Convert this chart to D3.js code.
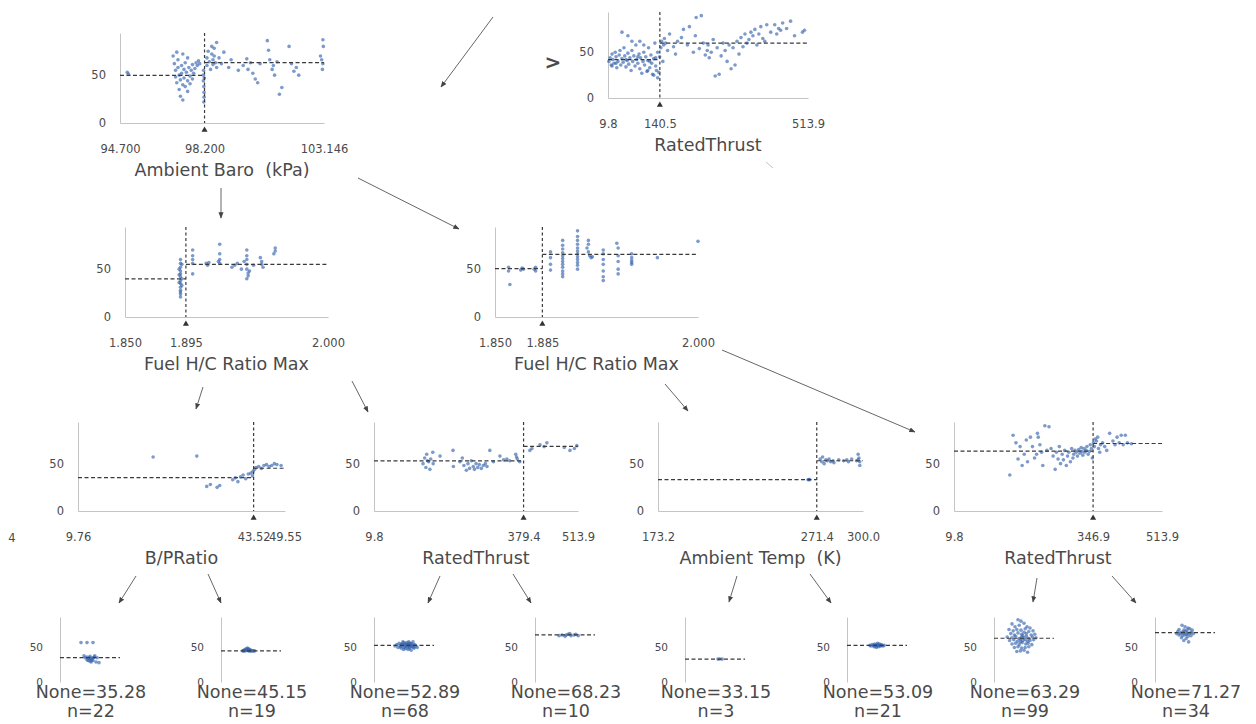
<!DOCTYPE html>
<html>
<head>
<meta charset="utf-8">
<script src="https://cdn.jsdelivr.net/npm/d3@7"></script>
<style>
  body { margin: 0; background: #fff; }
  svg text { font-family: "DejaVu Sans", sans-serif; fill: #4a4a4a; white-space: pre; }
</style>
</head>
<body>
<svg id="chart" width="1256" height="724"></svg>
<script>
// ---- data ----
const featureNames = ["RatedThrust", "Ambient Baro  (kPa)", "Fuel H/C Ratio Max", "Fuel H/C Ratio Max",
    "B/PRatio", "RatedThrust", "Ambient Temp  (K)", "RatedThrust"]
const xDomains = [[9.8, 513.9], [94.7, 103.146], [1.85, 2.0], [1.85, 2.0],
    [9.76, 49.55], [9.8, 513.9], [173.2, 300.0], [9.8, 513.9]]
const splits = [140.5, 98.2, 1.895, 1.885, 43.52, 379.4, 271.4, 346.9]
const tickDecimals = [1, 3, 3, 3, 2, 1, 1, 1]
const leftMeans = [42, 49.7, 39.85, 50.6, 35.28, 52.89, 33.15, 63.29]
const rightMeans = [60, 63.08, 54.86, 65.33, 45.15, 68.23, 53.09, 71.27]
const yTicks = [0, 50]
const yMax = 94

const rootPts = [[12,40],[15,44],[18,36],[20,48],[22,42],[25,38],[28,50],[30,45],[32,33],[35,40],[38,47],[40,52],[42,36],[45,43],[48,39],[50,55],[52,46],[55,34],[58,41],[60,49],[62,37],[65,44],[68,30],[70,52],[72,40],[75,46],[78,35],[80,58],[82,42],[85,38],[88,48],[90,32],[92,44],[95,27],[98,40],[100,50],[102,36],[105,45],[108,29],[110,41],[112,55],[115,33],[118,47],[120,38],[122,26],[125,43],[128,60],[130,35],[132,30],[135,50],[138,28],[140,45],[60,68],[45,72],[70,62],[90,62],[100,58],[110,30],[125,25],[135,22],[20,35],[30,38],[55,42],[85,45],[115,40],[130,44],
    [143,55],[145,62],[148,40],[150,58],[152,65],[155,60],[160,52],[165,70],[175,56],[180,48],[185,62],[195,66],[200,75],[210,58],[215,78],[225,50],[230,68],[240,54],[250,60],[255,47],[260,52],[262,58],[265,44],[270,50],[275,64],[280,24],[285,55],[290,26],[295,46],[300,60],[305,52],[310,40],[315,58],[320,32],[325,55],[330,36],[335,62],[340,48],[345,66],[350,56],[355,70],[360,60],[365,64],[370,72],[375,68],[380,75],[385,58],[390,70],[395,78],[400,65],[405,62],[410,80],[420,72],[430,80],[440,76],[450,82],[445,74],[435,70],[460,76],[470,84],[480,68],[500,72],[505,74],[232,88],[245,90]]

const baroPts = [[95.0,53],[95.05,51],[96.9,70],[96.95,62],[97.0,55],[97.0,48],[97.05,42],[97.1,66],[97.1,58],[97.15,50],[97.15,35],[97.2,45],[97.2,28],[97.25,60],[97.25,52],[97.3,40],[97.3,24],[97.35,56],[97.35,47],[97.4,38],[97.4,63],[97.45,53],[97.5,44],[97.5,33],[97.55,58],[97.6,49],[97.6,41],[97.65,55],[97.7,61],[97.7,46],[97.75,52],[97.8,57],[97.85,63],[97.9,60],[97.95,65],[98.0,62],[97.05,74],[97.3,72],[97.5,68],
    [98.15,50],[98.15,44],[98.17,38],[98.18,32],[98.18,27],[98.16,55],[98.19,47],[98.17,22],
    [98.3,60],[98.3,68],[98.35,75],[98.4,64],[98.45,56],[98.5,80],[98.5,72],[98.55,66],[98.55,61],[98.6,78],[98.6,70],[98.65,63],[98.7,58],[98.7,84],[98.8,68],[98.9,62],[99.0,74],[99.2,58],[99.3,66],[99.6,55],[99.8,60],[99.95,67],[100.0,56],[100.1,63],[100.2,52],[100.3,46],[100.4,42],[100.5,62],[100.8,86],[100.85,76],[100.9,66],[101.0,56],[101.05,60],[101.1,50],[101.2,64],[101.3,30],[101.4,37],[101.7,80],[101.8,62],[101.9,54],[102.0,58],[102.1,50],[103.0,70],[103.05,66],[103.1,62],[103.1,87],[103.12,80],[103.08,56]]

const fuelLeftPts = [[1.891,60],[1.891,56],[1.891,52],[1.891,48],[1.891,45],[1.891,42],[1.891,38],[1.891,35],[1.891,31],[1.891,28],[1.891,24],[1.891,21],[1.890,50],[1.892,40],[1.892,33],[1.890,44],[1.892,55],[1.890,36],[1.891,26],
    [1.900,70],[1.900,64],[1.900,60],[1.900,56],[1.900,45],[1.910,56],[1.911,54],[1.912,57],[1.920,76],[1.920,66],[1.920,60],[1.920,56],[1.919,58],[1.929,52],[1.931,54],[1.933,56],[1.936,50],[1.938,58],[1.940,70],[1.940,64],[1.940,60],[1.940,55],[1.940,50],[1.941,46],[1.941,43],[1.940,40],[1.942,48],[1.945,54],[1.950,62],[1.951,58],[1.951,55],[1.952,52],[1.961,72],[1.961,69],[1.960,66]]

const fuelRightPts = [[1.860,52],[1.860,48],[1.861,34],[1.870,51],[1.869,49],[1.871,50],[1.880,52],[1.880,48],[1.879,50],
    [1.891,68],[1.891,62],[1.891,55],[1.891,49],[1.9,80],[1.9,75],[1.9,71],[1.9,67],[1.9,64],[1.9,61],[1.9,58],[1.9,55],[1.9,52],[1.9,48],[1.9,45],[1.9,42],
    [1.911,90],[1.911,84],[1.911,80],[1.911,76],[1.911,72],[1.911,69],[1.911,66],[1.911,63],[1.911,60],[1.911,57],[1.911,54],[1.911,50],
    [1.919,80],[1.919,76],[1.918,72],[1.919,68],[1.920,64],[1.921,62],[1.922,63],[1.930,70],[1.930,66],[1.930,60],[1.930,55],[1.930,48],[1.930,42],[1.930,38],
    [1.940,77],[1.941,72],[1.941,64],[1.941,58],[1.941,50],[1.941,45],[1.951,66],[1.951,62],[1.951,59],[1.951,57],[1.951,55],[1.970,62],[2.0,79]]

const bpPts = [[24.2,57],[32.6,58],[34.5,26],[35.2,28],[36.5,25],[37.0,27],[39.5,33],[40.0,35],[40.5,31],[41.0,36],[41.5,38],[42.0,34],[42.5,39],[43.0,40],[43.3,37],[43.4,42],
    [43.7,44],[44.0,46],[44.5,47],[45.0,45],[45.5,48],[46.0,49],[46.5,47],[47.0,48],[47.5,50],[48.0,49],[48.8,48]]

const thrustMidPts = [[131,50],[135,56],[138,46],[140,60],[142,53],[145,52],[148,44],[150,55],[155,62],[156,50],[173,58],[205,64],[206,47],[222,52],[228,56],[232,48],[238,43],[242,50],[246,45],[250,53],[255,47],[258,44],[262,50],[266,46],[270,49],[275,45],[280,48],[285,50],[289,47],[296,64],[305,52],[321,58],[330,54],[338,55],[345,53],[360,60],[362,57],[364,55],[370,52],
    [395,64],[400,66],[420,70],[430,68],[437,72],[480,67],[494,64],[505,66],[511,69]]

const tempPts = [[266,33],[266.5,33.2],[267,33.1],
    [273.5,55],[274.5,52],[275,57],[276,50],[277,54],[278,53],[279,55],[280,52],[281.5,53],[282,51],[285,54],[288,53],[290,54],[291,52],[293,55],[296,53],[297,60],[297.5,56],[298,48],[298,52],[297,54]]

const thrustRightPts = [[145,38],[153,80],[160,72],[165,55],[170,68],[175,48],[180,60],[185,75],[188,52],[195,78],[200,68],[205,56],[210,60],[212,82],[214,78],[218,70],[222,62],[225,48],[230,90],[235,64],[240,89],[245,66],[250,58],[255,44],[258,62],[262,55],[265,68],[268,50],[272,60],[275,54],[278,64],[282,48],[285,58],[288,62],[292,52],[295,66],[298,56],[300,60],[303,64],[306,62],[309,58],[312,65],[315,61],[318,67],[320,63],[322,59],[325,66],[327,62],[330,64],[332,68],[335,60],[338,63],[340,70],[343,66],[345,56],
    [348,72],[350,68],[352,76],[355,74],[358,78],[360,66],[363,62],[365,70],[370,72],[375,68],[380,64],[387,82],[395,74],[400,70],[405,78],[410,72],[415,80],[420,70],[425,80],[430,72],[440,71]]

const nodePoints = [rootPts, baroPts, fuelLeftPts, fuelRightPts, bpPts, thrustMidPts, tempPts, thrustRightPts]

const leafMeans = [35.28, 45.15, 52.89, 68.23, 33.15, 53.09, 63.29, 71.27]
const leafCounts = [22, 19, 68, 10, 3, 21, 99, 34]
const leaf1Pts = [[0.35,57],[0.45,57],[0.55,57],[0.40,38],[0.45,36],[0.48,34],[0.50,37],[0.52,33],[0.55,35],[0.47,31],[0.50,30],[0.53,32],[0.58,38],[0.60,29],[0.62,35],[0.45,32],[0.50,35],[0.55,31],[0.57,36],[0.42,35],[0.52,29],[0.65,28]]
const leaf2Pts = [[0.36,45],[0.38,46],[0.40,47],[0.42,48],[0.44,49],[0.46,48],[0.48,47],[0.50,46],[0.52,45],[0.54,45],[0.56,45],[0.40,45],[0.44,46],[0.46,45],[0.48,45],[0.42,45.5],[0.50,45],[0.45,47],[0.38,45]]
const leaf3Pts = [[0.35,52],[0.38,54],[0.40,50],[0.42,56],[0.44,53],[0.45,49],[0.46,55],[0.48,52],[0.50,57],[0.50,50],[0.52,53],[0.53,48],[0.54,55],[0.55,51],[0.56,54],[0.57,47],[0.58,52],[0.59,56],[0.60,50],[0.61,53],[0.62,46],[0.63,55],[0.64,51],[0.65,58],[0.66,53],[0.67,49],[0.68,54],[0.70,52],[0.72,50],[0.44,51],[0.47,54],[0.49,47],[0.51,55],[0.53,51],[0.55,57],[0.57,53],[0.59,49],[0.61,56],[0.63,52],[0.66,50],[0.48,58],[0.58,58]]
const leaf4Pts = [[0.40,67],[0.45,68],[0.50,66],[0.55,69],[0.58,70],[0.60,67],[0.65,68],[0.68,69],[0.72,67],[0.52,68]]
const leaf5Pts = [[0.55,33.1],[0.58,33.2],[0.62,33.1]]
const leaf6Pts = [[0.38,53],[0.40,52],[0.42,54],[0.44,53],[0.45,51],[0.46,55],[0.48,53],[0.50,52],[0.50,54],[0.52,53],[0.53,51],[0.54,55],[0.55,53],[0.56,52],[0.57,54],[0.58,53],[0.60,52],[0.62,53],[0.47,52],[0.51,56],[0.49,50]]
const leaf7Pts = [[0.40,90],[0.45,88],[0.30,84],[0.50,85],[0.35,80],[0.42,82],[0.55,80],[0.60,78],[0.25,76],[0.32,74],[0.38,76],[0.45,75],[0.52,77],[0.58,73],[0.65,74],[0.28,70],[0.34,68],[0.40,71],[0.46,69],[0.50,72],[0.54,70],[0.62,68],[0.68,69],[0.22,65],[0.30,64],[0.36,66],[0.42,63],[0.46,65],[0.50,64],[0.54,66],[0.58,63],[0.64,65],[0.70,64],[0.26,60],[0.33,61],[0.39,59],[0.44,62],[0.48,60],[0.52,61],[0.56,59],[0.60,60],[0.66,61],[0.30,55],[0.36,56],[0.42,54],[0.47,57],[0.53,55],[0.57,56],[0.63,54],[0.34,50],[0.40,51],[0.46,49],[0.52,50],[0.58,51],[0.44,45],[0.50,46],[0.38,44],[0.56,43],[0.48,67],[0.44,58]]
const leaf8Pts = [[0.45,82],[0.50,80],[0.55,78],[0.40,76],[0.48,75],[0.58,77],[0.62,75],[0.38,73],[0.44,72],[0.50,73],[0.54,71],[0.60,72],[0.36,70],[0.42,70],[0.47,71],[0.52,69],[0.57,70],[0.64,70],[0.40,68],[0.46,67],[0.50,68],[0.55,66],[0.60,67],[0.44,64],[0.52,63],[0.48,60],[0.56,58],[0.53,75]]
const leafPoints = [leaf1Pts, leaf2Pts, leaf3Pts, leaf4Pts, leaf5Pts, leaf6Pts, leaf7Pts, leaf8Pts]

// ---- layout (pixels) ----
const nodeBoxes = [
    { x0: 608, x1: 808, top: 12, base: 98 },
    { x0: 120, x1: 324, top: 33, base: 123 },
    { x0: 125, x1: 328, top: 227, base: 317 },
    { x0: 495, x1: 698, top: 227, base: 317 },
    { x0: 78, x1: 285, top: 422, base: 511 },
    { x0: 374, x1: 578, top: 422, base: 511 },
    { x0: 658, x1: 863, top: 422, base: 511 },
    { x0: 954, x1: 1162, top: 422, base: 511 }
]
const leafAxisX = [60, 221, 374, 535, 685, 847, 994, 1155]
const leafTop = 617, leafBase = 682, leafWidth = 60
const arrows = [
    [493, 17, 441, 87], [221, 188, 221, 218], [358, 178, 459, 229],
    [203, 387, 196, 409], [352, 381, 368, 412], [665, 384, 688, 411], [722, 350, 915, 432],
    [136, 576, 119, 603], [208, 574, 221, 603], [440, 576, 428, 603], [513, 574, 531, 603],
    [737, 576, 729, 602], [810, 574, 831, 603], [1037, 578, 1033, 602], [1112, 576, 1136, 603]
]

const dotColor = "#3564ad"
const dashColor = "#3a3a3a"
const axisColor = "#c4c4c4"

const svg = d3.select("#chart")

svg.append("defs").append("marker")
    .attr("id", "head")
    .attr("viewBox", "0 0 10 10")
    .attr("refX", 9).attr("refY", 5)
    .attr("markerWidth", 7).attr("markerHeight", 7)
    .attr("orient", "auto")
    .append("path")
    .attr("d", "M0,1 L10,5 L0,9 Z")
    .attr("fill", "#444")

const arrowG = svg.append("g")
arrows.forEach(a => {
    arrowG.append("line")
        .attr("x1", a[0]).attr("y1", a[1]).attr("x2", a[2]).attr("y2", a[3])
        .attr("stroke", "#555").attr("stroke-width", 0.9)
        .attr("marker-end", "url(#head)")
})
// stub of an arrow leaving the picture
arrowG.append("line")
    .attr("x1", 766).attr("y1", 162).attr("x2", 773).attr("y2", 168)
    .attr("stroke", "#bbb").attr("stroke-width", 0.9)

function styleAxis(g) {
    g.select(".domain").attr("stroke", axisColor).attr("stroke-width", 1)
    g.selectAll(".tick line").remove()
    g.selectAll("text").attr("font-size", "11.5px").attr("fill", "#555")
}

function drawSplitNode(i) {
    const L = nodeBoxes[i]
    const g = svg.append("g")
    const x = d3.scaleLinear().domain(xDomains[i]).range([L.x0, L.x1])
    const y = d3.scaleLinear().domain([0, yMax]).range([L.base, L.top])
    const fmt = d3.format("." + tickDecimals[i] + "f")

    g.append("g")
        .attr("transform", `translate(${L.x0},0)`)
        .call(d3.axisLeft(y).tickValues(yTicks).tickSize(0).tickSizeOuter(0).tickPadding(14))
        .call(styleAxis)

    g.append("g")
        .attr("transform", `translate(0,${L.base})`)
        .call(d3.axisBottom(x).tickValues([xDomains[i][0], splits[i], xDomains[i][1]])
            .tickFormat(fmt).tickSize(0).tickSizeOuter(0).tickPadding(22))
        .call(styleAxis)

    g.append("g").selectAll("circle")
        .data(nodePoints[i])
        .enter().append("circle")
        .attr("cx", d => x(d[0]))
        .attr("cy", d => y(d[1]))
        .attr("r", 1.8)
        .attr("fill", dotColor)
        .attr("fill-opacity", 0.65)

    const sx = x(splits[i])
    g.append("line")
        .attr("x1", L.x0).attr("x2", sx)
        .attr("y1", y(leftMeans[i])).attr("y2", y(leftMeans[i]))
        .attr("stroke", dashColor).attr("stroke-width", 1.2).attr("stroke-dasharray", "4,2.5")
    g.append("line")
        .attr("x1", sx).attr("x2", L.x1)
        .attr("y1", y(rightMeans[i])).attr("y2", y(rightMeans[i]))
        .attr("stroke", dashColor).attr("stroke-width", 1.2).attr("stroke-dasharray", "4,2.5")
    g.append("line")
        .attr("x1", sx).attr("x2", sx)
        .attr("y1", L.top).attr("y2", L.base)
        .attr("stroke", dashColor).attr("stroke-width", 1.2).attr("stroke-dasharray", "3,2.5")
    g.append("path")
        .attr("d", d3.symbol(d3.symbolTriangle).size(16)())
        .attr("transform", `translate(${sx},${L.base + 7})`)
        .attr("fill", "#333")

    g.append("text")
        .attr("x", (L.x0 + L.x1) / 2)
        .attr("y", L.base + 53)
        .attr("text-anchor", "middle")
        .attr("font-size", "17.5px")
        .attr("fill", "#4a4a4a")
        .text(featureNames[i])
}

function drawLeaf(i) {
    const ax = leafAxisX[i]
    const g = svg.append("g")
    const x = d3.scaleLinear().domain([0, 1]).range([ax, ax + leafWidth])
    const y = d3.scaleLinear().domain([0, yMax]).range([leafBase, leafTop])

    g.append("g")
        .attr("transform", `translate(${ax},0)`)
        .call(d3.axisLeft(y).tickValues(yTicks).tickSize(0).tickSizeOuter(0).tickPadding(17))
        .call(styleAxis)
        .call(a => a.selectAll("text").attr("font-size", "10.5px"))

    g.append("g").selectAll("circle")
        .data(leafPoints[i])
        .enter().append("circle")
        .attr("cx", d => x(d[0]))
        .attr("cy", d => y(d[1]))
        .attr("r", 1.8)
        .attr("fill", dotColor)
        .attr("fill-opacity", 0.65)

    g.append("line")
        .attr("x1", ax).attr("x2", ax + leafWidth)
        .attr("y1", y(leafMeans[i])).attr("y2", y(leafMeans[i]))
        .attr("stroke", dashColor).attr("stroke-width", 1.2).attr("stroke-dasharray", "4,2.5")

    g.append("text")
        .attr("x", ax + 31).attr("y", 698)
        .attr("text-anchor", "middle").attr("font-size", "17.5px")
        .text("None=" + leafMeans[i].toFixed(2))
    g.append("text")
        .attr("x", ax + 31).attr("y", 717)
        .attr("text-anchor", "middle").attr("font-size", "17.5px")
        .text("n=" + leafCounts[i])
}

d3.range(nodeBoxes.length).forEach(drawSplitNode)
d3.range(leafAxisX.length).forEach(drawLeaf)

svg.append("text")
    .attr("x", 553).attr("y", 69)
    .attr("text-anchor", "middle")
    .attr("font-size", "20px").attr("font-weight", "bold")
    .attr("fill", "#444")
    .text(">")

svg.append("text")
    .attr("x", 12).attr("y", 542)
    .attr("text-anchor", "middle")
    .attr("font-size", "11.5px").attr("fill", "#555")
    .text("4")
</script>
</body>
</html>
